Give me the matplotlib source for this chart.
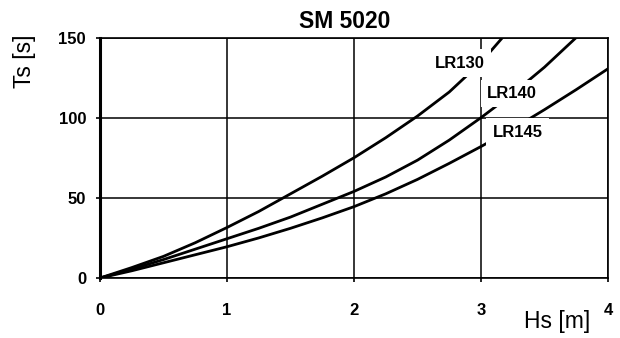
import matplotlib

matplotlib.use("Agg")
import matplotlib.pyplot as plt

plt.rcParams["font.family"] = ["Liberation Sans", "DejaVu Sans"]

# curves: Hs [m] -> Ts [s]
hs_130 = [0, 0.25, 0.5, 0.75, 1.0, 1.25, 1.5, 1.75, 2.0, 2.25, 2.5, 2.75, 3.0, 3.17]
ts_130 = [0, 6.5, 13.5, 22, 31.5, 41.5, 52.5, 63.5, 75, 87.5, 101, 116, 134.5, 150]
hs_140 = [0, 0.25, 0.5, 0.75, 1.0, 1.25, 1.5, 1.75, 2.0, 2.25, 2.5, 2.75, 3.0, 3.25, 3.5, 3.75]
ts_140 = [0, 5.5, 11.5, 18, 24.5, 31, 38, 46, 54, 63, 73.5, 86, 100, 115, 131.5, 150]
hs_145 = [0, 0.25, 0.5, 0.75, 1.0, 1.25, 1.5, 1.75, 2.0, 2.25, 2.5, 2.75, 3.0, 3.25, 3.5, 3.75, 4.0]
ts_145 = [0, 4.5, 9.5, 14.5, 19.5, 25, 31, 37.5, 44.5, 52.5, 61.5, 71.5, 82, 93, 105, 117.5, 130.5]

labels = ["LR130", "LR140", "LR145"]
label_pos = [(2.64, 134), (3.05, 115), (3.09, 91)]
xticks = [0, 1, 2, 3, 4]
yticks = [0, 50, 100, 150]

fig = plt.figure(figsize=(6.2, 3.38), dpi=100)
ax = fig.add_axes([0.1613, 0.1775, 0.8193, 0.7115])

for x, y in [(hs_130, ts_130), (hs_140, ts_140), (hs_145, ts_145)]:
    ax.plot(x, y, color="black", lw=2, zorder=3, solid_joinstyle="round")

for lab, (x, y) in zip(labels, label_pos):
    ax.text(x, y, lab, fontsize=12, fontweight="bold", ha="left", va="center",
            zorder=4, bbox=dict(facecolor="white", edgecolor="none", pad=4.5))

ax.set_xlim(0, 4)
ax.set_ylim(0, 150)
ax.set_xticks(xticks)
ax.set_yticks(yticks)
ax.set_xticklabels([str(t) for t in xticks], fontweight="bold", fontsize=12)
ax.set_yticklabels([str(t) for t in yticks], fontweight="bold", fontsize=12)
ax.tick_params(direction="out", length=3, width=1.2, color="black")
ax.tick_params(axis="x", pad=15)
ax.tick_params(axis="y", pad=7)
ax.grid(True, color="black", lw=1.1)
ax.set_axisbelow(True)
for side in ["left", "bottom", "right", "top"]:
    ax.spines[side].set_linewidth(1.2)
ax.spines["left"].set_linewidth(2.2)

fig.text(0.556, 0.935, "SM 5020", fontsize=16.5, fontweight="bold", ha="center", va="center")
fig.text(0.039, 0.82, "Ts [s]", rotation=90, fontsize=16.5, ha="center", va="center")
fig.text(0.898, 0.05, "Hs [m]", fontsize=16.5, ha="center", va="center")

fig.savefig("out.png", dpi=100)
